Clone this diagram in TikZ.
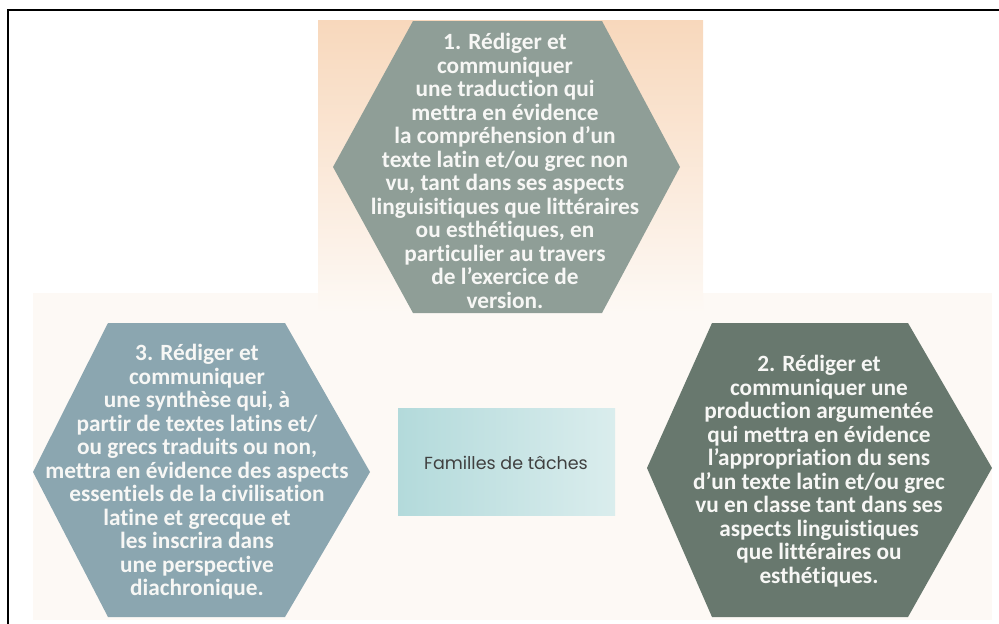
\documentclass[tikz,border=0pt]{standalone}
\usepackage{fontspec}
\setmainfont{Carlito}[Ligatures=NoCommon]
\newfontfamily\famfont{Poppins}
\definecolor{hexA}{HTML}{8F9E97}
\definecolor{hexB}{HTML}{68786E}
\definecolor{hexC}{HTML}{8BA6B0}
\definecolor{peach}{HTML}{F8D8BC}
\definecolor{cream}{HTML}{FDF9F5}
\definecolor{tealA}{HTML}{B3DADB}
\definecolor{tealB}{HTML}{DAEDED}
\definecolor{hextext}{HTML}{F7F7F5}
\begin{document}
\begin{tikzpicture}[x=1pt,y=-1pt,
  hexlabel/.style={align=center,text=hextext,inner sep=0pt,
    font=\bfseries\fontsize{23.3}{23.5}\selectfont},
  famlabel/.style={text=black!75,inner sep=0pt,font=\famfont\fontsize{17.5}{20}\selectfont}]
\useasboundingbox (0,0) rectangle (999,624);
% frame
\draw[line width=1.8pt] (8,624) -- (8,10) -- (999,10);
% backgrounds
\fill[cream] (33,293) rectangle (992,620);
\shade[top color=peach,bottom color=cream] (318,20) rectangle (703,313);
% hexagon 1
\fill[hexA] (413,21) -- (602,21) -- (680,167) -- (602,313) -- (413,313) -- (333,167) -- cycle;
\node[hexlabel] (t1) at (505,171) {1. Rédiger et\\communiquer\\une traduction qui\\mettra en évidence\\la compréhension d’un\\texte latin et/ou grec non\\vu, tant dans ses aspects\\linguisitiques que littéraires\\ou esthétiques, en\\particulier au travers\\de l’exercice de\\version.};
% hexagon 3
\fill[hexC] (108,323) -- (285,323) -- (370,472) -- (285,617) -- (108,617) -- (33,472) -- cycle;
\node[hexlabel] (t3) at (197,472) {3. Rédiger et\\communiquer\\une synthèse qui, à\\partir de textes latins et/\\ou grecs traduits ou non,\\mettra en évidence des aspects\\essentiels de la civilisation\\latine et grecque et\\les inscrira dans\\une perspective\\diachronique.};
% hexagon 2
\fill[hexB] (712,323) -- (908,323) -- (992,468) -- (908,617) -- (712,617) -- (647,468) -- cycle;
\node[hexlabel] (t2) at (819,471) {2. Rédiger et\\communiquer une\\production argumentée\\qui mettra en évidence\\l’appropriation du sens\\d’un texte latin et/ou grec\\vu en classe tant dans ses\\aspects linguistiques\\que littéraires ou\\esthétiques.};
% centre box
\shade[left color=tealA,right color=tealB] (398,408) rectangle (615,515);
\node[famlabel] (fam) at (506,463) {Familles de tâches};
\end{tikzpicture}
\end{document}
